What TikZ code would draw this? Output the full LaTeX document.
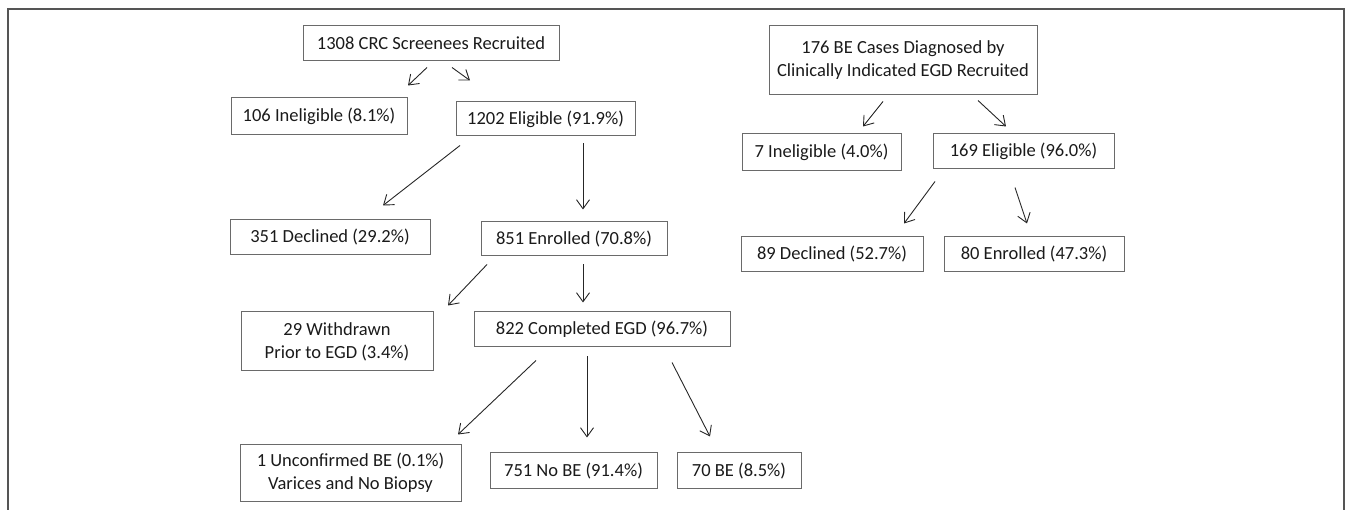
\documentclass[tikz,border=0pt]{standalone}
\usepackage{fontspec}
\setmainfont{Carlito}
\usepackage{xcolor}
\usetikzlibrary{arrows.meta}
\definecolor{framegray}{HTML}{555555}
\definecolor{boxgray}{HTML}{6A6A6A}
\definecolor{textgray}{HTML}{1A1A1A}

\begin{document}
\begin{tikzpicture}[x=1pt, y=-1pt,
    box/.style={rectangle, draw=boxgray, line width=1pt, text=textgray, align=center, inner sep=0pt, minimum height=35, font=\fontsize{18.5}{23}\selectfont},
    arrow/.style={-{Straight Barb[length=9pt,width=13pt]}, line width=0.9pt, draw=black!85}
]
    \useasboundingbox (0,0) rectangle (1350,510);
    \draw[framegray, line width=2pt] (8,510) -- (8,9) -- (1344,9) -- (1344,510);

    % screenee arm
    \node[box, minimum width=256] (recruited) at (431,43.5) {1308 CRC Screenees Recruited};
    \node[box, minimum width=176, minimum height=37] (inelig) at (319,116.5) {106 Ineligible (8.1\%)};
    \node[box, minimum width=179, minimum height=34] (elig) at (545.5,119) {1202 Eligible (91.9\%)};
    \node[box, minimum width=200] (declined) at (330,237.5) {351 Declined (29.2\%)};
    \node[box, minimum width=186, minimum height=34] (enrolled) at (574,239) {851 Enrolled (70.8\%)};
    \node[box, minimum width=192, minimum height=59] (withdrawn) at (337,341.5) {29 Withdrawn\\Prior to EGD (3.4\%)};
    \node[box, minimum width=256] (egd) at (602,329.5) {822 Completed EGD (96.7\%)};
    \node[box, minimum width=221, minimum height=56] (unconf) at (350.5,473) {1 Unconfirmed BE (0.1\%)\\Varices and No Biopsy};
    \node[box, minimum width=167, minimum height=36] (nobe) at (573.5,471) {751 No BE (91.4\%)};
    \node[box, minimum width=124, minimum height=36] (be) at (739,471) {70 BE (8.5\%)};

    % case arm
    \node[box, minimum width=268, minimum height=69] (caseRec) at (903,60.5) {176 BE Cases Diagnosed by\\Clinically Indicated EGD Recruited};
    \node[box, minimum width=159, minimum height=37] (caseInel) at (821.5,152.5) {7 Ineligible (4.0\%)};
    \node[box, minimum width=181] (caseElig) at (1023.5,151.5) {169 Eligible (96.0\%)};
    \node[box, minimum width=182] (caseDecl) at (832,254.5) {89 Declined (52.7\%)};
    \node[box, minimum width=180] (caseEnr) at (1034,254.5) {80 Enrolled (47.3\%)};

    \draw[arrow] ([shift={(-4,6)}]recruited.south) -- ([shift={(89,-12)}]inelig.north);
    \draw[arrow] ([shift={(21,6)}]recruited.south) -- ([shift={(-75.5,-21)}]elig.north);
    \draw[arrow] ([shift={(-85.5,9)}]elig.south) -- ([shift={(53,-14)}]declined.north);
    \draw[arrow] ([shift={(37.5,7)}]elig.south) -- ([shift={(9,-12)}]enrolled.north);
    \draw[arrow] ([shift={(-87,8)}]enrolled.south) -- ([shift={(111,-6)}]withdrawn.north);
    \draw[arrow] ([shift={(9,8)}]enrolled.south) -- ([shift={(-19,-9)}]egd.north);
    \draw[arrow] ([shift={(-66,13)}]egd.south) -- ([shift={(107.5,-10)}]unconf.north);
    \draw[arrow] ([shift={(-15,9)}]egd.south) -- ([shift={(13.5,-15)}]nobe.north);
    \draw[arrow] ([shift={(70,15)}]egd.south) -- ([shift={(-29,-16)}]be.north);

    \draw[arrow] ([shift={(-20,6)}]caseRec.south) -- ([shift={(41.5,-7)}]caseInel.north);
    \draw[arrow] ([shift={(75,5)}]caseRec.south) -- ([shift={(-17.5,-7)}]caseElig.north);
    \draw[arrow] ([shift={(-88.5,12)}]caseElig.south) -- ([shift={(72,-13)}]caseDecl.north);
    \draw[arrow] ([shift={(-8.5,18)}]caseElig.south) -- ([shift={(-7,-13)}]caseEnr.north);
\end{tikzpicture}
\end{document}
